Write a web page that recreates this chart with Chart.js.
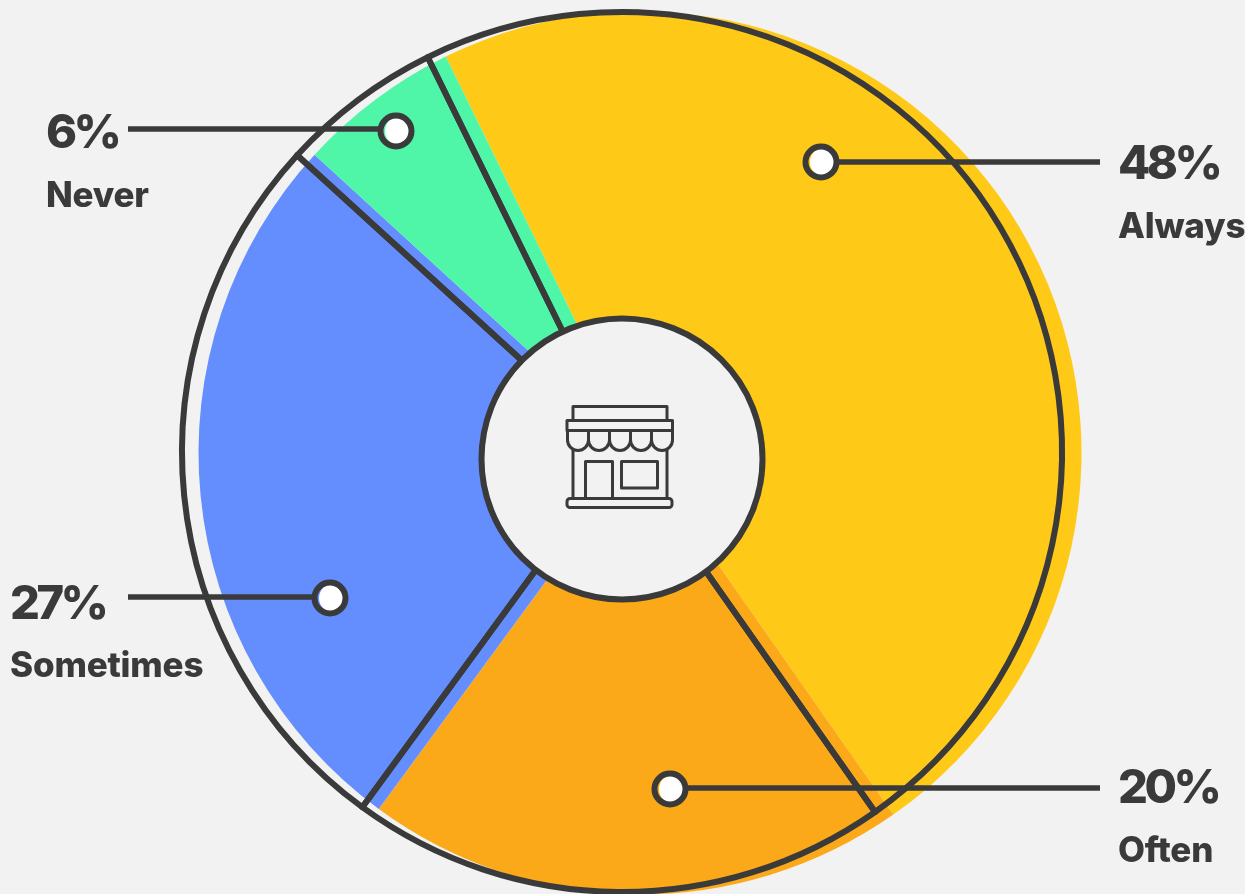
<!DOCTYPE html>
<html>
<head>
<meta charset="utf-8">
<script src="https://cdn.jsdelivr.net/npm/chart.js@4"></script>
<style>
html,body{margin:0;padding:0;width:1245px;height:894px;overflow:hidden;background:#f2f2f2}
canvas,svg{position:absolute}
.pct{font:800 47px Inter,sans-serif;fill:#3a3a3a;letter-spacing:-3.5px}
.cat{font:800 35px Inter,sans-serif;fill:#3a3a3a;letter-spacing:-0.2px}
</style>
</head>
<body>
<canvas id="fills" width="1000" height="1000" style="left:139.5px;top:-47px"></canvas>
<canvas id="outlines" width="1000" height="1000" style="left:122px;top:-48px"></canvas>
<svg id="overlay" width="1245" height="894" style="left:0;top:0"></svg>
<script>
const categories = ["Always", "Often", "Sometimes", "Never"];
const values = [48, 20, 27, 6];
const valueLabels = ["48%", "20%", "27%", "6%"];
const colors = ["#FEC917", "#FBA819", "#648DFE", "#50F6A8"];
const ink = "#3a3a3a";
const paper = "#f2f2f2";

function pie(id, radius, rotation, ds) {
  return new Chart(document.getElementById(id), {
    type: "doughnut",
    data: { labels: categories, datasets: [Object.assign({ data: values }, ds)] },
    options: {
      responsive: false, animation: false, rotation: rotation, cutout: 0, radius: radius,
      layout: { padding: 0 },
      plugins: { legend: { display: false }, tooltip: { enabled: false } }
    }
  });
}
pie("fills", 441.5, -26.1, { backgroundColor: colors, borderWidth: 0 });
pie("outlines", 440, -26.2, { backgroundColor: "rgba(0,0,0,0)", borderColor: ink, borderWidth: 6, borderJoinStyle: "round" });

// callouts: [marker x, marker y, line y, line from x, line to x, text x, value baseline, name baseline]
const callouts = [
  [821, 162, 162, 838, 1100, 1118, 179, 238],
  [670, 789, 788, 688, 1100, 1118, 803, 862],
  [330, 598, 597, 128, 316, 10, 619, 677],
  [396, 131, 129, 128, 382, 46, 148, 207]
];
let s = "";
callouts.forEach((c, i) => {
  s += `<line x1="${c[3]}" x2="${c[4]}" y1="${c[2]}" y2="${c[2]}" stroke="${ink}" stroke-width="5.500"/>`;
  s += `<circle cx="${c[0]+3.5}" cy="${c[1]}" r="14.5" fill="#fff"/>`;
  s += `<circle cx="${c[0]}" cy="${c[1]}" r="15.5" fill="none" stroke="${ink}" stroke-width="6"/>`;
  s += `<text class="pct" x="${c[5]}" y="${c[6]}">${valueLabels[i]}</text>`;
  s += `<text class="cat" x="${c[5]}" y="${c[7]}">${categories[i]}</text>`;
});
s += `<circle cx="622" cy="459" r="140.5" fill="${paper}" stroke="${ink}" stroke-width="6"/>`;
let scallops = "";
for (let k = 0; k < 5; k++) {
  const x = 567.5 + k * 21;
  scallops += `<path d="M${x} 431v9a10.5 10.5 0 0 0 21 0v-9"/>`;
}
s += `<g fill="none" stroke="${ink}" stroke-width="3" stroke-linejoin="round">
<path d="M573 420v-13.500h94v13.500"/>
<rect x="567" y="420.500" width="105.500" height="10"/>${scallops}
<path d="M573 450v48M667 450v48"/>
<path d="M585.500 498v-36.500h27v36.500"/>
<rect x="621.500" y="461.500" width="36" height="26.500"/>
<path d="M571 498.500h98a3 3 0 0 1 3 3v3a3 3 0 0 1-3 3h-99a3 3 0 0 1-3-3v-3a3 3 0 0 1 3-3z"/>
</g>`;
document.getElementById("overlay").innerHTML = s;
</script>
</body>
</html>
